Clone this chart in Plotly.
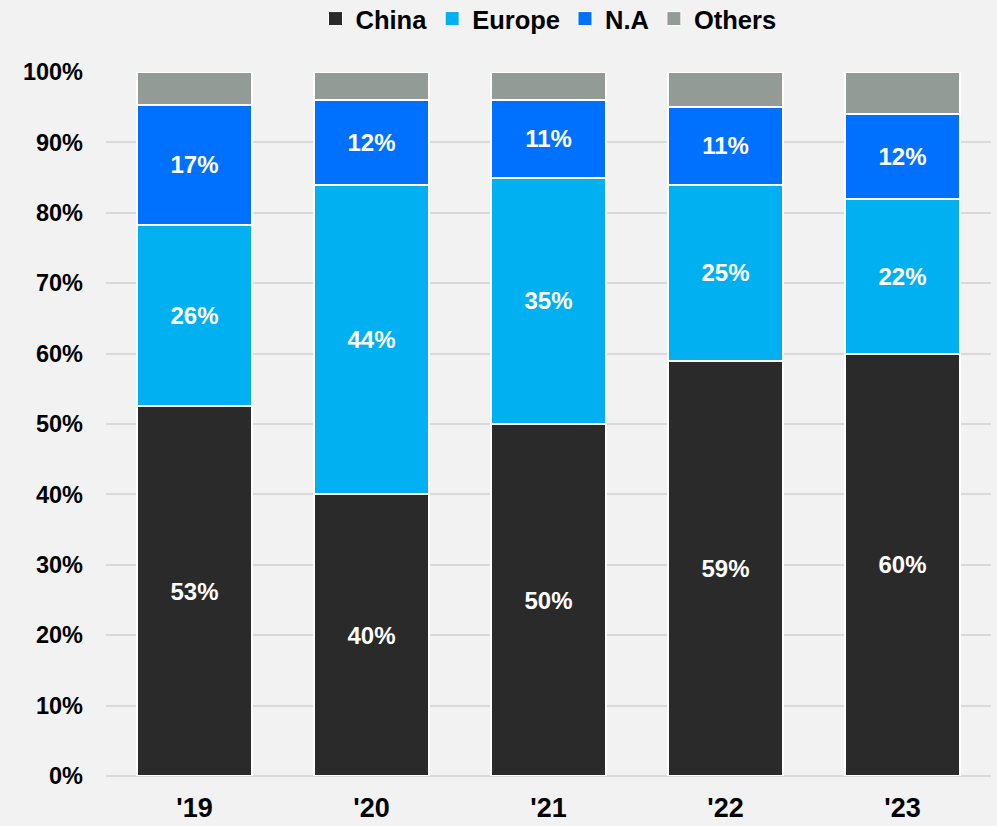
import plotly.graph_objects as go

years = ["'19", "'20", "'21", "'22", "'23"]
china = [52.5, 40, 50, 59, 60]
europe = [25.8, 44, 35, 25, 22]
na = [17, 12, 11, 11, 12]
others = [4.7, 4, 4, 5, 6]
china_lbl = ["53%", "40%", "50%", "59%", "60%"]
europe_lbl = ["26%", "44%", "35%", "25%", "22%"]
na_lbl = ["17%", "12%", "11%", "11%", "12%"]
others_lbl = ["", "", "", "", ""]

series = [
    ("China", china, china_lbl, "#2a2a2a"),
    ("Europe", europe, europe_lbl, "#00b0f0"),
    ("N.A", na, na_lbl, "#0070ff"),
    ("Others", others, others_lbl, "#939b96"),
]

FONT = "Liberation Sans, Arial, sans-serif"
fig = go.Figure()
for name, vals, lbl, col in series:
    fig.add_trace(go.Bar(
        name=name, x=years, y=vals, text=lbl, texttemplate="%{text}",
        textposition="inside", insidetextanchor="middle",
        textfont=dict(family=FONT, size=24, color="white", weight="bold"),
        marker=dict(color=col, line=dict(color="white", width=2)),
        hoverinfo="skip", showlegend=False, legendgroup=name,
    ))
# legend entries with square markers
for name, vals, lbl, col in series:
    fig.add_trace(go.Scatter(
        name=name, x=[None], y=[None], mode="markers",
        marker=dict(symbol="square", size=14, color=col, line=dict(color="white", width=1)),
        showlegend=True, legendgroup=name, hoverinfo="skip",
    ))

fig.update_layout(
    barmode="stack", bargap=0.345,
    width=997, height=826,
    paper_bgcolor="#f2f2f2", plot_bgcolor="#f2f2f2",
    margin=dict(l=106, r=6, t=72, b=50),
    font=dict(family=FONT, color="black"),
    uniformtext=dict(mode="show", minsize=10),
    legend=dict(orientation="h", x=0.5, xanchor="center", y=0.977, yref="container",
                yanchor="middle", font=dict(family=FONT, size=25.5, weight="bold"),
                traceorder="normal", itemwidth=30, bgcolor="rgba(0,0,0,0)",
                tracegroupgap=0),
    showlegend=True,
)
fig.update_xaxes(showgrid=False, showline=False, ticks="", ticklabelstandoff=13,
                 automargin=False,
                 tickfont=dict(family=FONT, size=27, weight="bold"))
fig.update_yaxes(range=[0, 100], dtick=10, ticksuffix="%", showgrid=True,
                 gridcolor="#d9d9d9", gridwidth=1.5, zeroline=True, zerolinecolor="#d9d9d9",
                 zerolinewidth=1.5, showline=False, ticks="", ticklen=0,
                 ticklabelstandoff=22, automargin=False,
                 tickfont=dict(family=FONT, size=23.5, weight="bold"))

fig.write_html("out.html")
